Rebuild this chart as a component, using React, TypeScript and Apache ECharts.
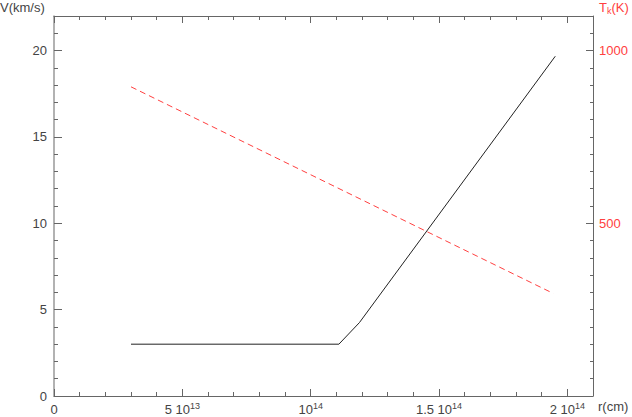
import React, { useEffect, useRef } from "react";
import * as echarts from "echarts";

// Velocity profile (black solid)
const rVelocity = [3e13, 1.11e14, 1.19e14, 1.953e14];
const velocity = [3, 3, 4.25, 19.67];
// Kinetic temperature profile (red dashed)
const rTemperature = [3e13, 1.945e14];
const temperature = [895, 297];

// x tick labels: [mantissa text, exponent]
const xTickValues = [0, 5e13, 1e14, 1.5e14, 2e14];
const xTickTexts = [["0", ""], ["5 10", "13"], ["10", "14"], ["1.5 10", "14"], ["2 10", "14"]];
const vTickValues = [0, 5, 10, 15, 20];
const tTickValues = [500, 1000];

const FONT = "Liberation Sans";
const AXIS_COLOR = "#666";
const LABEL_COLOR = "#444";
const RED = "#ff4040";

export default function App() {
  const ref = useRef<HTMLDivElement>(null);
  useEffect(() => {
    if (!ref.current) return;
    const chart = echarts.init(ref.current, null, { renderer: "svg" });
    const xFormatter = (v: number) => {
      const i = xTickValues.findIndex((t) => Math.abs(t - v) < 1e9);
      if (i < 0) return "";
      const [m, e] = xTickTexts[i];
      return e ? `{n|${m}}{s|${e}}` : `{n|${m}}`;
    };
    const rich = {
      n: { fontSize: 13, fontFamily: FONT, color: LABEL_COLOR, lineHeight: 16 },
      s: { fontSize: 9, fontFamily: FONT, color: LABEL_COLOR, lineHeight: 9, verticalAlign: "top" as const },
    };
    const baseX = {
      type: "value" as const,
      min: 0,
      max: 2.1e14,
      interval: 5e13,
      axisLine: { show: true, onZero: false, lineStyle: { color: AXIS_COLOR, width: 1 } },
      axisTick: { show: true, inside: true, length: 7, lineStyle: { color: AXIS_COLOR } },
      minorTick: { show: true, splitNumber: 5, length: 4, lineStyle: { color: AXIS_COLOR } },
      splitLine: { show: false },
    };
    chart.setOption({
      animation: false,
      backgroundColor: "#fff",
      grid: { left: 54, right: 39, top: 16, bottom: 21, containLabel: false },
      xAxis: [
        {
          ...baseX,
          position: "bottom",
          axisLabel: { show: true, margin: 5, formatter: xFormatter, rich, showMaxLabel: false },
        },
        {
          ...baseX,
          position: "top",
          axisLabel: { show: false },
        },
      ],
      yAxis: [
        {
          type: "value",
          position: "left",
          min: 0,
          max: 22,
          interval: 5,
          axisLine: { show: true, onZero: false, lineStyle: { color: "#999", width: 1.5 } },
          axisTick: { show: true, inside: true, length: 8, lineStyle: { color: AXIS_COLOR } },
          minorTick: { show: true, splitNumber: 5, length: 4, lineStyle: { color: AXIS_COLOR } },
          splitLine: { show: false },
          axisLabel: {
            margin: 7,
            fontSize: 13,
            fontFamily: FONT,
            color: LABEL_COLOR,
            formatter: (v: number) => (vTickValues.includes(v) ? String(v) : ""),
          },
        },
        {
          type: "value",
          position: "right",
          min: 0,
          max: 1100,
          interval: 500,
          axisLine: { show: true, onZero: false, lineStyle: { color: AXIS_COLOR, width: 1 } },
          axisTick: { show: true, inside: true, length: 7, lineStyle: { color: AXIS_COLOR } },
          minorTick: { show: true, splitNumber: 10, length: 3, lineStyle: { color: AXIS_COLOR } },
          splitLine: { show: false },
          axisLabel: {
            margin: 6,
            fontSize: 13,
            fontFamily: FONT,
            color: RED,
            formatter: (v: number) => (tTickValues.includes(v) ? String(v) : ""),
          },
        },
      ],
      graphic: [
        {
          type: "text",
          left: 0,
          top: 1,
          style: { text: "V(km/s)", fontSize: 13, fontFamily: FONT, fill: LABEL_COLOR },
        },
        {
          type: "text",
          left: 599,
          top: 1,
          style: {
            text: "{a|T}{b|k}{a|(K)}",
            rich: {
              a: { fontSize: 13, fontFamily: FONT, fill: RED, lineHeight: 16 } as any,
              b: { fontSize: 9, fontFamily: FONT, fill: RED, lineHeight: 9, verticalAlign: "bottom" } as any,
            },
          },
        },
        {
          type: "text",
          left: 598,
          top: 400,
          style: { text: "r(cm)", fontSize: 13, fontFamily: FONT, fill: LABEL_COLOR },
        },
      ],
      series: [
        {
          type: "line",
          xAxisIndex: 0,
          yAxisIndex: 0,
          data: rVelocity.map((r, i) => [r, velocity[i]]),
          showSymbol: false,
          lineStyle: { color: "#222", width: 1 },
          silent: true,
        },
        {
          type: "line",
          xAxisIndex: 0,
          yAxisIndex: 1,
          data: rTemperature.map((r, i) => [r, temperature[i]]),
          showSymbol: false,
          lineStyle: { color: RED, width: 1, type: [6, 4] },
          silent: true,
        },
      ],
    });
    return () => chart.dispose();
  }, []);
  return (
    <div
      ref={ref}
      style={{ position: "absolute", left: 0, top: 0, width: 632, height: 417 }}
    />
  );
}
